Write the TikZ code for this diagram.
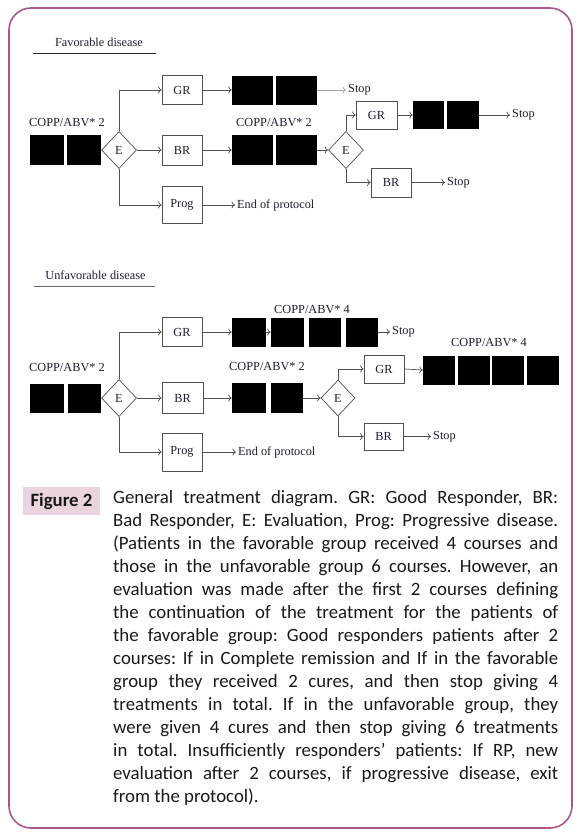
\documentclass[tikz,border=0pt]{standalone}
\usepackage{fontspec}
\setmainfont{Liberation Serif}
\newfontfamily\captionfont{Carlito}
\usetikzlibrary{shapes.geometric,arrows.meta}
\frenchspacing

\definecolor{framecol}{RGB}{172,86,140}
\definecolor{figfill}{RGB}{233,212,224}
\definecolor{linecol}{RGB}{80,80,80}
\definecolor{lightline}{RGB}{165,165,165}
\definecolor{diagtext}{RGB}{30,30,50}
\definecolor{captext}{RGB}{25,25,25}

\newcommand{\diagsize}{\fontsize{12.3}{14}\selectfont}
\newcommand{\capsize}{\fontsize{18.8}{23}\selectfont}

\begin{document}
\begin{tikzpicture}[x=1pt, y=-1pt,
    box/.style={draw=linecol, fill=white, line width=0.7pt, minimum width=40pt, minimum height=29pt, inner sep=0pt, font=\diagsize, text=diagtext},
    course/.style={fill=black, minimum height=29pt, inner sep=0pt},
    eval/.style={diamond, draw=linecol, line width=0.7pt, minimum width=35pt, minimum height=37pt, inner sep=0pt, font=\diagsize, text=diagtext},
    lbl/.style={font=\diagsize, text=diagtext, inner sep=2pt},
    arrow/.style={-{To[length=3.5pt,width=7pt]}, draw=linecol, line width=0.7pt}
]
\useasboundingbox (0,0) rectangle (580,838);

% frame
\draw[framecol, line width=1.6pt, rounded corners=22pt] (9,8) rectangle (572,828);

% favorable disease
\node[lbl] (ftitle) at (99,42) {Favorable disease};
\draw[black!85, line width=0.9pt] (33,53) -- (156,53);

\node[lbl] (fcopp1) at (67,123) {COPP/ABV* 2};
\node[course, minimum width=34pt, minimum height=30pt] (fc1) at (47,150) {};
\node[course, minimum width=34pt, minimum height=30pt] (fc2) at (84,150) {};
\node[eval] (fe1) at (119,150) {E};

\node[box] (fgr1) at (182,90) {GR};
\node[box, minimum height=30pt] (fbr1) at (182,150) {BR};
\node[box, minimum height=37pt] (fprog1) at (182,205) {Prog};

\node[course, minimum width=41pt] (fa1) at (252.5,90) {};
\node[course, minimum width=41pt] (fa2) at (296.5,90) {};
\node[lbl, anchor=west] (fstop1) at (346,90) {Stop};

\node[lbl] (fcopp2) at (274,123) {COPP/ABV* 2};
\node[course, minimum width=41pt, minimum height=30pt] (fb1) at (252.5,150) {};
\node[course, minimum width=41pt, minimum height=30pt] (fb2) at (296.5,150) {};
\node[eval] (fe2) at (346,150) {E};

\node[box, minimum width=41pt, minimum height=28pt] (fgr2) at (376.5,115) {GR};
\node[course, minimum width=31pt, minimum height=28pt] (fd1) at (428.5,115) {};
\node[course, minimum width=32pt, minimum height=28pt] (fd2) at (463,115) {};
\node[lbl, anchor=west] (fstop2) at (510,115) {Stop};

\node[box] (fbr2) at (391,182.5) {BR};
\node[lbl, anchor=west] (fstop3) at (445,182.5) {Stop};

\node[lbl, anchor=west] (fend) at (235,205) {End of protocol};

\draw[arrow] (fe1.north) |- (fgr1.west);
\draw[arrow] (fe1.east) -- (fbr1.west);
\draw[arrow] (fe1.south) |- (fprog1.west);
\draw[arrow] (fgr1.east) -- (fa1.west);
\draw[arrow, draw=lightline] (fa2.east) -- (fstop1.west);
\draw[arrow] (fbr1.east) -- (fb1.west);
\draw[arrow] (fb2.east) -- (fe2.west);
\draw[arrow] (fprog1.east) -- (fend.west);
\draw[arrow] (fe2.north) |- (fgr2.west);
\draw[arrow] (fe2.south) |- (fbr2.west);
\draw[arrow] (fgr2.east) -- (fd1.west);
\draw[arrow] (fd2.east) -- (fstop2.west);
\draw[arrow] (fbr2.east) -- (fstop3.west);

% unfavorable disease
\node[lbl] (utitle) at (95.5,275) {Unfavorable disease};
\draw[black!60, line width=0.9pt] (34,286) -- (155,286);

\node[lbl] (ucopp4) at (312,310) {COPP/ABV* 4};
\node[box] (ugr1) at (182,332) {GR};
\node[course, minimum width=34pt] (ua1) at (249,332) {};
\node[course, minimum width=33pt] (ua2) at (287.5,332) {};
\node[course, minimum width=32pt] (ua3) at (325,332) {};
\node[course, minimum width=32pt] (ua4) at (362,332) {};
\node[lbl, anchor=west] (ustop1) at (390,332) {Stop};

\node[lbl] (ucopp1) at (67,368) {COPP/ABV* 2};
\node[course, minimum width=34pt, minimum height=29pt] (uc1) at (47,398) {};
\node[course, minimum width=33pt, minimum height=29pt] (uc2) at (84,398) {};
\node[eval] (ue1) at (119,398) {E};

\node[box, minimum width=41pt, minimum height=31pt] (ubr1) at (182.5,398) {BR};
\node[lbl] (ucopp2) at (267,367) {COPP/ABV* 2};
\node[course, minimum width=34pt, minimum height=30pt] (ub1) at (249,398) {};
\node[course, minimum width=32pt, minimum height=30pt] (ub2) at (287,398) {};
\node[eval, minimum width=34pt, minimum height=36pt] (ue2) at (338,398) {E};

\node[lbl] (ucopp3) at (489,343) {COPP/ABV* 4};
\node[box, minimum height=28pt] (ugr2) at (384,369) {GR};
\node[course, minimum width=32pt] (ud1) at (439,370) {};
\node[course, minimum width=32pt] (ud2) at (473.5,370) {};
\node[course, minimum width=32pt] (ud3) at (508,370) {};
\node[course, minimum width=32pt] (ud4) at (542.5,370) {};

\node[box, minimum width=39pt, minimum height=27pt] (ubr2) at (383.5,436.5) {BR};
\node[lbl, anchor=west] (ustop2) at (431,436.5) {Stop};

\node[box, minimum height=38pt] (uprog1) at (182,452) {Prog};
\node[lbl, anchor=west] (uend) at (236,452) {End of protocol};

\draw[arrow] (ue1.north) |- (ugr1.west);
\draw[arrow] (ue1.east) -- (ubr1.west);
\draw[arrow] (ue1.south) |- (uprog1.west);
\draw[arrow] (ugr1.east) -- (ua1.west);
\draw[arrow] (ua1.east) -- (ua2.west);
\draw[arrow] (ua4.east) -- (ustop1.west);
\draw[arrow] (ubr1.east) -- (ub1.west);
\draw[arrow] (ub2.east) -- (ue2.west);
\draw[arrow] (uprog1.east) -- (uend.west);
\draw[arrow] (ue2.north) |- (ugr2.west);
\draw[arrow] (ue2.south) |- (ubr2.west);
\draw[arrow] (ugr2.east) -- (ud1.west);
\draw[arrow] (ubr2.east) -- (ustop2.west);

% caption
\node[fill=figfill, minimum width=77pt, minimum height=28pt, inner sep=0pt, text=captext,
      font=\captionfont\bfseries\capsize] (figlabel) at (61.5,501) {Figure 2};
\node[anchor=north west, text width=445pt, inner sep=0pt, align=justify, text=captext,
      font=\captionfont\capsize] (captiontext) at (113,490) {%
General treatment diagram. GR: Good Responder, BR:\linebreak
Bad Responder, E: Evaluation, Prog: Progressive disease.\linebreak
(Patients in the favorable group received 4 courses and\linebreak
those in the unfavorable group 6 courses. However, an\linebreak
evaluation was made after the first 2 courses defining\linebreak
the continuation of the treatment for the patients of\linebreak
the favorable group: Good responders patients after 2\linebreak
courses: If in Complete remission and If in the favorable\linebreak
group they received 2 cures, and then stop giving 4\linebreak
treatments in total. If in the unfavorable group, they\linebreak
were given 4 cures and then stop giving 6 treatments\linebreak
in total. Insufficiently responders’ patients: If RP, new\linebreak
evaluation after 2 courses, if progressive disease, exit\linebreak
from the protocol).};
\end{tikzpicture}
\end{document}
